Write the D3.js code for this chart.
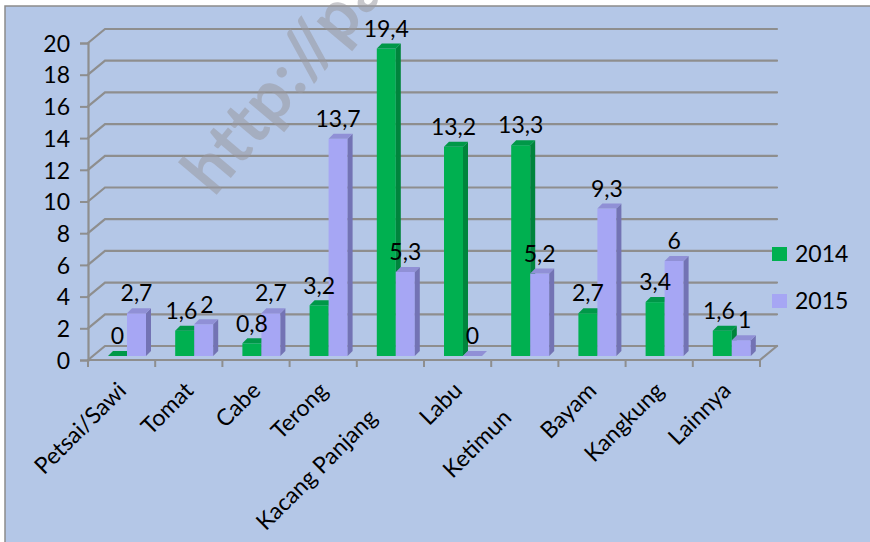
<!DOCTYPE html>
<html>
<head>
<meta charset="utf-8">
<script src="https://cdn.jsdelivr.net/npm/d3@7/dist/d3.min.js"></script>
<style>
  html, body { margin: 0; padding: 0; background: #ffffff; }
  svg { display: block; }
  text { font-family: Lato, "Open Sans", sans-serif; fill: #000; }
</style>
</head>
<body>
<svg id="chart" width="870" height="542"></svg>
<script>
// ---- data ----
const categories = ["Petsai/Sawi", "Tomat", "Cabe", "Terong", "Kacang Panjang", "Labu", "Ketimun", "Bayam", "Kangkung", "Lainnya"];
const seriesNames = ["2014", "2015"];
const values2014 = [0, 1.6, 0.8, 3.2, 19.4, 13.2, 13.3, 2.7, 3.4, 1.6];
const values2015 = [2.7, 2, 2.7, 13.7, 5.3, 0, 5.2, 9.3, 6, 1];
const yTicks = [0, 2, 4, 6, 8, 10, 12, 14, 16, 18, 20];
const watermark = "http://pa";

// ---- layout / style ----
const W = 870, H = 542;
const bg = "#b4c7e7";
const gridColor = "#8e8e8e";
const fontSize = 23;
const colors = {
  "2014": { front: "#00b050", side: "#00843c", top: "#009848" },
  "2015": { front: "#a6a6f4", side: "#7373b4", top: "#9090d6" }
};
const wallDX = 17, wallDY = -14;   // depth of the back wall
const barD = 5;                    // bar depth
const barLift = 4;                 // bars sit slightly behind the front plane
const staggered = new Set(["Kacang Panjang", "Ketimun"]);

const svg = d3.select("#chart");

// background
svg.append("rect").attr("x", 0).attr("y", 0).attr("width", W).attr("height", H).attr("fill", "#fff");
svg.append("rect").attr("x", 5).attr("y", 6).attr("width", W - 5).attr("height", H - 6).attr("fill", bg);
svg.append("path").attr("d", `M5,${H} L5,6 L${W},6`).attr("fill", "none").attr("stroke", "#8c8c8c").attr("stroke-width", 1.5);

// scales
const x = d3.scaleBand().domain(categories).range([88, 760]).paddingInner(0).paddingOuter(0);
const xs = d3.scaleBand().domain(seriesNames).range([20, 58]).paddingInner(0);
const y = d3.scaleLinear().domain([0, 20]).range([360, 43]);

const fmt = v => String(v).replace(".", ",");

// gridlines on back wall + side wall connectors
const grid = svg.append("g").attr("stroke", gridColor).attr("stroke-width", 2.2).attr("fill", "none").attr("stroke-linecap", "round");
yTicks.forEach(t => {
  const yy = y(t);
  grid.append("path").attr("d", `M${x.range()[0]},${yy} L${x.range()[0] + wallDX},${yy + wallDY} L${x.range()[1] + wallDX},${yy + wallDY}`);
});
// floor: front edge and right edge
grid.append("path").attr("d", `M${x.range()[0]},${y(0)} L${x.range()[1]},${y(0)} L${x.range()[1] + wallDX},${y(0) + wallDY}`);

// watermark
svg.append("text")
  .attr("transform", "translate(214,198) rotate(-50)")
  .attr("font-size", 68).attr("font-weight", "bold")
  .attr("letter-spacing", 1)
  .style("fill", "#9a9aa2").attr("opacity", 0.55)
  .text(watermark);

// y axis
const yAxis = d3.axisLeft(y).tickValues(yTicks).tickSize(8).tickPadding(10).tickFormat(d => d);
const gy = svg.append("g").attr("transform", `translate(${x.range()[0]},0)`).call(yAxis);
gy.select(".domain").attr("stroke", gridColor).attr("stroke-width", 2.2);
gy.selectAll(".tick line").attr("stroke", gridColor).attr("stroke-width", 2);
gy.selectAll(".tick text").attr("font-size", fontSize).attr("font-family", "Lato").attr("fill", "#000").attr("dy", "0.36em");

// category ticks
const bounds = categories.map(c => x(c)).concat([x.range()[1]]);
svg.append("g").selectAll("line").data(bounds).join("line")
  .attr("x1", d => d).attr("x2", d => d)
  .attr("y1", y(0)).attr("y2", y(0) + 7)
  .attr("stroke", gridColor).attr("stroke-width", 2);

// category labels
svg.append("g").selectAll("text").data(categories).join("text")
  .attr("transform", d => {
    const cx = x(d) + x.bandwidth() / 2 + 6 + (staggered.has(d) ? -18 : 0);
    const cy = 392 + (staggered.has(d) ? 27 : 0);
    return `translate(${cx},${cy}) rotate(-45)`;
  })
  .attr("text-anchor", "end")
  .attr("font-size", fontSize)
  .text(d => d);

// bars
const data = categories.map((c, i) => ({ c, vals: [{ s: "2014", v: values2014[i] }, { s: "2015", v: values2015[i] }] }));
const bars = svg.append("g");
data.forEach(d => {
  d.vals.forEach(b => {
    const x0 = x(d.c) + xs(b.s), x1 = x0 + xs.bandwidth();
    const yb = y(0) - barLift, yt = y(b.v) - barLift;
    const col = colors[b.s];
    const g = bars.append("g");
    if (yb - yt > 0.5) {
      g.append("rect").attr("x", x0).attr("y", yt).attr("width", x1 - x0).attr("height", yb - yt).attr("fill", col.front);
      g.append("path").attr("d", `M${x1},${yt} L${x1 + barD},${yt - barD} L${x1 + barD},${yb - barD} L${x1},${yb} Z`).attr("fill", col.side);
    }
    g.append("path").attr("d", `M${x0},${yt} L${x0 + barD},${yt - barD} L${x1 + barD},${yt - barD} L${x1},${yt} Z`).attr("fill", col.top);
  });
});

// data labels (pairs pushed apart horizontally if they collide)
const labels = svg.append("g");
data.forEach(d => {
  const pair = d.vals.map(b => {
    const x0 = x(d.c) + xs(b.s);
    const t = labels.append("text")
      .attr("x", x0 + xs.bandwidth() / 2)
      .attr("y", y(b.v) - barLift - 20)
      .attr("dy", "0.36em")
      .attr("text-anchor", "middle")
      .attr("font-size", fontSize)
      .text(fmt(b.v));
    return { t, cx: x0 + xs.bandwidth() / 2, cy: y(b.v) - barLift - 20, w: t.node().getComputedTextLength() };
  });
  const [a, b] = pair;
  const vOverlap = Math.abs(a.cy - b.cy) < fontSize * 0.9;
  const need = (a.w + b.w) / 2 + 3 - (b.cx - a.cx);
  if (vOverlap && need > 0) {
    a.t.attr("x", a.cx - need / 2);
    b.t.attr("x", b.cx + need / 2);
  }
});

// legend
const legend = svg.append("g").attr("transform", "translate(772,247)");
seriesNames.forEach((s, i) => {
  const g = legend.append("g").attr("transform", `translate(0,${i * 47})`);
  g.append("rect").attr("width", 15).attr("height", 14).attr("fill", colors[s].front);
  g.append("text").attr("x", 23).attr("y", 7).attr("dy", "0.36em").attr("font-size", fontSize).text(s);
});
</script>
</body>
</html>
